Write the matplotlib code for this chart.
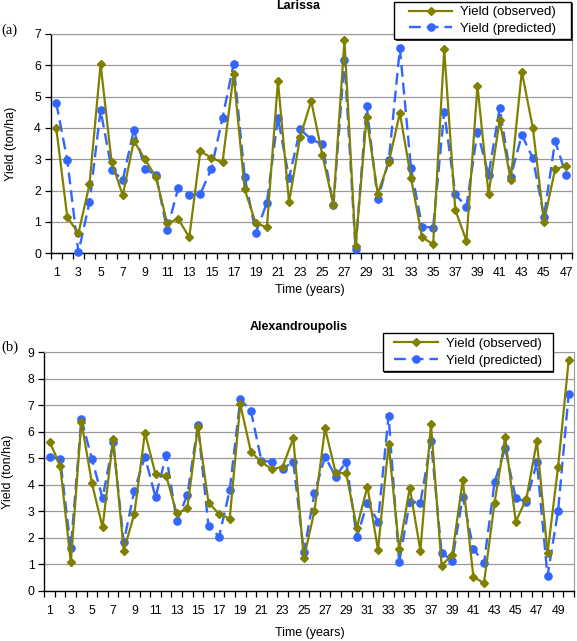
import matplotlib
matplotlib.use("Agg")
import matplotlib.pyplot as plt
from matplotlib.ticker import MultipleLocator, FixedLocator
from matplotlib.patches import Rectangle
import numpy as np

plt.rcParams['font.family'] = ['Liberation Sans', 'DejaVu Sans']
plt.rcParams['font.size'] = 8.8

# Larissa (47 years)
larissa_obs = [4.0, 1.15, 0.64, 2.2, 6.04, 2.9, 1.85, 3.59, 3.0, 2.43,
               0.96, 1.1, 0.51, 3.27, 3.04, 2.9, 5.71, 2.04, 0.96, 0.83,
               5.5, 1.63, 3.71, 4.86, 3.15, 1.55, 6.81, 0.22, 4.35, 1.9,
               2.91, 4.48, 2.41, 0.51, 0.29, 6.51, 1.38, 0.4, 5.34, 1.89,
               4.25, 2.34, 5.8, 3.99, 1.01, 2.68, 2.8]
larissa_pred = [4.8, 2.97, 0.03, 1.63, 4.57, 2.67, 2.33, 3.95, 2.7, 2.49,
                0.75, 2.08, 1.85, 1.9, 2.7, 4.33, 6.03, 2.44, 0.65, 1.61,
                4.33, 2.4, 3.96, 3.64, 3.48, 1.53, 6.17, 0.14, 4.71, 1.72,
                2.97, 6.54, 2.73, 0.85, 0.82, 4.52, 1.88, 1.49, 3.88, 2.5,
                4.63, 2.45, 3.78, 3.03, 1.17, 3.58, 2.5]

# Alexandroupolis (50 years)
alex_obs = [5.63, 4.72, 1.07, 6.38, 4.05, 2.39, 5.73, 1.51, 2.9, 5.97,
            4.39, 4.34, 2.92, 3.11, 6.19, 3.32, 2.9, 2.72, 7.04, 5.25,
            4.85, 4.58, 4.68, 5.75, 1.22, 3.01, 6.13, 4.46, 4.43, 2.38,
            3.93, 1.54, 5.53, 1.56, 3.89, 1.51, 6.29, 0.95, 1.35, 4.18,
            0.53, 0.28, 3.32, 5.79, 2.61, 3.46, 5.65, 1.41, 4.68, 8.71]
alex_pred = [5.06, 4.96, 1.6, 6.48, 4.96, 3.49, 5.6, 1.83, 3.78, 5.06,
             3.53, 5.12, 2.63, 3.61, 6.26, 2.44, 2.04, 3.8, 7.23, 6.79,
             4.9, 4.87, 4.6, 4.87, 1.45, 3.68, 5.06, 4.31, 4.87, 2.02,
             3.32, 2.61, 6.61, 1.07, 3.36, 3.32, 5.65, 1.44, 1.13, 3.55,
             1.59, 1.03, 4.09, 5.38, 3.49, 3.36, 4.85, 0.55, 3.02, 7.43]

OLIVE = '#808000'
BLUE = '#3366FF'
W, H = 577, 641

fig = plt.figure(figsize=(W / 100, H / 100), dpi=100)


def px(x0, y0, x1, y1):
    return [x0 / W, 1 - y1 / H, (x1 - x0) / W, (y1 - y0) / H]


def legend_box(x0, y0, x1, y1):
    # excel style frame with a thin dark shadow on the right/bottom
    sh = Rectangle((x0 / W + 1.5 / W, 1 - y1 / H - 1.5 / H),
                   (x1 - x0) / W, (y1 - y0) / H, transform=fig.transFigure,
                   facecolor='#333333', edgecolor='none', zorder=9)
    fr = Rectangle((x0 / W, 1 - y1 / H), (x1 - x0) / W, (y1 - y0) / H,
                   transform=fig.transFigure, facecolor='white',
                   edgecolor='black', lw=1.0, zorder=10)
    fig.patches.extend([sh, fr])


def draw(ax, obs, pred, ymax, title, tag, title_x, title_y, tag_y,
         xl_y, box):
    n = len(obs)
    t = np.arange(1, n + 1)
    ax.plot(t, pred, color=BLUE, lw=1.7, dashes=(5, 2.5), marker='o',
            ms=5.2, mec=BLUE, mfc=BLUE, label='Yield (predicted)', zorder=3,
            clip_on=False)
    ax.plot(t, obs, color=OLIVE, lw=1.6, marker='D', ms=4.3,
            mec=OLIVE, mfc=OLIVE, label='Yield (observed)', zorder=4,
            clip_on=False)
    ax.set_xlim(0.5, n + 0.5)
    ax.set_ylim(0, ymax)
    ax.yaxis.set_major_locator(MultipleLocator(1))
    ax.grid(axis='y', color='#9a9a9a', lw=0.9)
    ax.set_axisbelow(True)
    ax.xaxis.set_major_locator(FixedLocator(np.arange(1, n + 1, 2)))
    ax.xaxis.set_minor_locator(FixedLocator(np.arange(0.5, n + 1, 1)))
    ax.tick_params(axis='x', which='major', length=0, pad=10)
    ax.tick_params(axis='x', which='minor', length=4, width=0.9)
    ax.tick_params(axis='y', length=4, width=0.9, pad=3)
    for s in ('top', 'right'):
        ax.spines[s].set_color('#9a9a9a')
    for s in ('left', 'bottom'):
        ax.spines[s].set_linewidth(1.0)
    fig.text(title_x / W, 1 - title_y / H, title, ha='center', va='center',
             fontsize=9, fontweight='bold')
    fig.text(1 / W, 1 - tag_y / H, tag, ha='left', va='center',
             fontsize=10.5, family='Liberation Serif')
    fig.text(310 / W, 1 - xl_y / H, 'Time (years)', ha='center',
             va='center', fontsize=9)
    legend_box(*box)
    h, l = ax.get_legend_handles_labels()
    cx = (box[0] + box[2]) / 2 / W
    cy = 1 - (box[1] + box[3]) / 2 / H
    leg = fig.legend(h[::-1], l[::-1], loc='center',
                     bbox_to_anchor=(cx, cy), frameon=False,
                     handlelength=3.3, labelspacing=0.35, borderpad=0,
                     handletextpad=0.6, fontsize=9.5)
    leg.set_zorder(11)


ax1 = fig.add_axes(px(50.7, 34, 571.7, 253.3))
draw(ax1, larissa_obs, larissa_pred, 7, 'Larissa', '(a)', 298, 6, 30,
     290, (394, 2, 571, 39))
ax1.set_ylabel('Yield (ton/ha)', fontsize=9, labelpad=12)

ax2 = fig.add_axes(px(44.3, 352.3, 574, 590.7))
draw(ax2, alex_obs, alex_pred, 9, 'Alexandroupolis', '(b)', 299, 327, 347,
     633, (383, 333, 553, 371))
ax2.set_ylabel('Yield (ton/ha)', fontsize=9, labelpad=10)

fig.savefig('out.png', dpi=100)
